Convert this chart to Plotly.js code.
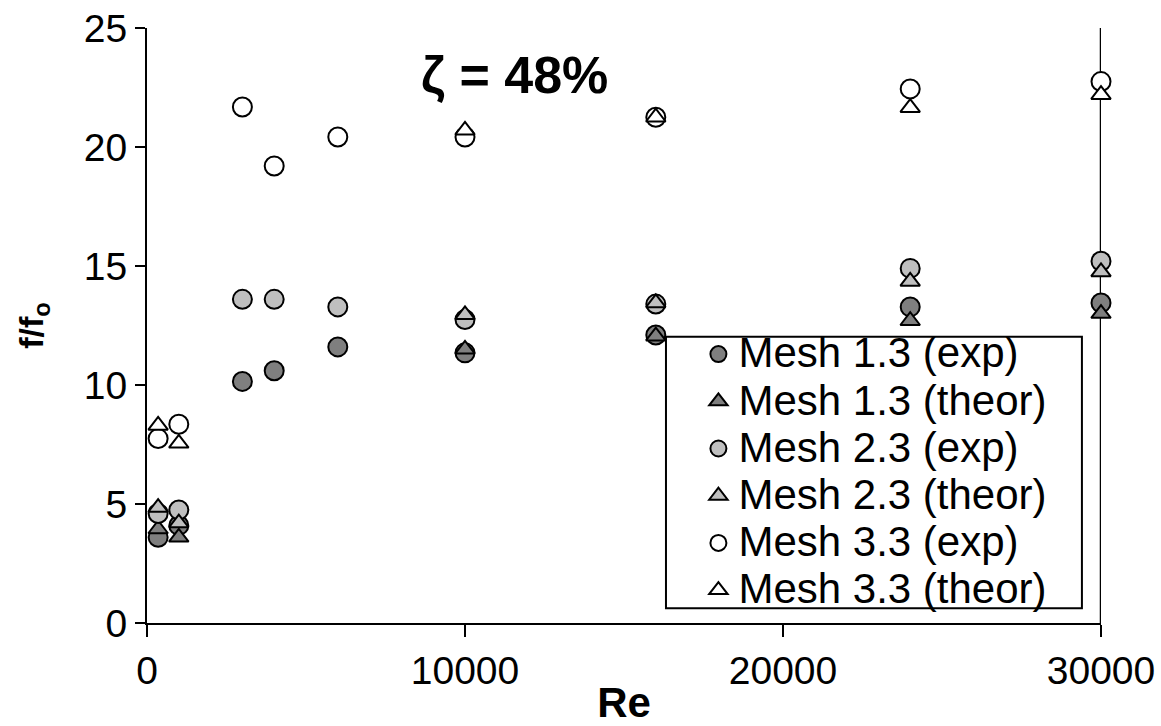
<!DOCTYPE html>
<html>
<head>
<meta charset="utf-8">
<script src="https://cdn.plot.ly/plotly-3.0.1.min.js"></script>
<style>html,body{margin:0;padding:0;background:#fff;}#chart{width:1161px;height:726px;}</style>
</head>
<body>
<div id="chart"></div>
<script>
// Data
const reExp = [350, 1000, 3000, 4000, 6000, 10000, 16000, 24000, 30000];
const reTheor = [350, 1000, 10000, 16000, 24000, 30000];

const mesh13Exp   = [3.6, 4.1, 10.15, 10.6, 11.6, 11.35, 12.1, 13.28, 13.45];
const mesh13Theor = [3.95, 3.6, 11.5, 12.05, 12.7, 13.0];
const mesh23Exp   = [4.6, 4.75, 13.6, 13.6, 13.28, 12.75, 13.4, 14.9, 15.2];
const mesh23Theor = [4.85, 4.2, 12.95, 13.45, 14.35, 14.75];
const mesh33Exp   = [7.75, 8.35, 21.68, 19.2, 20.42, 20.42, 21.25, 22.44, 22.75];
const mesh33Theor = [8.3, 7.55, 20.7, 21.25, 21.65, 22.2];

const seriesNames = ['Mesh 1.3 (exp)', 'Mesh 1.3 (theor)', 'Mesh 2.3 (exp)', 'Mesh 2.3 (theor)', 'Mesh 3.3 (exp)', 'Mesh 3.3 (theor)'];
const xTicks = [0, 10000, 20000, 30000];
const yTicks = [0, 5, 10, 15, 20, 25];

const FONT = '"Liberation Sans", Arial, sans-serif';
const dark = '#7f7f7f', light = '#bfbfbf', white = '#ffffff';

function tr(name, x, y, symbol, color, size) {
  return {
    type: 'scatter', mode: 'markers',
    name: '<span style="font-size:42px">' + name + '</span>',
    x: x, y: y, cliponaxis: false,
    marker: {symbol: symbol, size: size, color: color, line: {color: '#000', width: 2}}
  };
}

const data = [
  tr(seriesNames[0], reExp, mesh13Exp, 'circle', dark, 19),
  tr(seriesNames[1], reTheor, mesh13Theor, 'triangle-up', dark, 17),
  tr(seriesNames[2], reExp, mesh23Exp, 'circle', light, 19),
  tr(seriesNames[3], reTheor, mesh23Theor, 'triangle-up', light, 17),
  tr(seriesNames[4], reExp, mesh33Exp, 'circle', white, 19),
  tr(seriesNames[5], reTheor, mesh33Theor, 'triangle-up', white, 17)
];

const layout = {
  width: 1161, height: 726,
  margin: {l: 147, r: 60, t: 28, b: 103},
  paper_bgcolor: '#fff', plot_bgcolor: '#fff',
  font: {family: FONT, color: '#000', size: 36},
  showlegend: true,
  xaxis: {
    range: [0, 30000], tickvals: xTicks, ticktext: xTicks.map(String),
    showgrid: false, zeroline: false, showline: true, linecolor: '#000', linewidth: 2,
    ticks: 'outside', ticklen: 12, tickwidth: 2, tickcolor: '#000',
    tickfont: {size: 39, family: FONT},
    title: {text: '<b>Re</b>', font: {size: 42, family: FONT}, standoff: 2}
  },
  yaxis: {
    range: [0, 25], tickvals: yTicks, ticktext: yTicks.map(String),
    showgrid: false, zeroline: false, showline: true, linecolor: '#000', linewidth: 2,
    ticks: 'outside', ticklen: 10, tickwidth: 2, tickcolor: '#000',
    tickfont: {size: 39, family: FONT},
    title: {text: '<b>f/f<sub>o</sub></b>', font: {size: 34, family: FONT}, standoff: 30}
  },
  legend: {
    x: 0.578, y: 0.500, xanchor: 'left', yanchor: 'top',
    bgcolor: 'rgba(0,0,0,0)', borderwidth: 0,
    font: {size: 34, family: FONT}, traceorder: 'normal', tracegroupgap: 0
  },
  shapes: [
    {type: 'rect', xref: 'paper', yref: 'paper', x0: 0.544, x1: 0.980, y0: 0.025, y1: 0.481,
     line: {color: '#000', width: 2}, fillcolor: '#fff', layer: 'below'},
    {type: 'line', xref: 'x', yref: 'paper', x0: 30000, x1: 30000, y0: 0, y1: 1,
     line: {color: '#000', width: 2.5}, layer: 'below'}
  ],
  annotations: [
    {xref: 'paper', yref: 'paper', x: 0.385, y: 0.921, xanchor: 'center', yanchor: 'middle',
     text: '<b>ζ = 48%</b>', showarrow: false, font: {size: 52, family: FONT}}
  ]
};

Plotly.newPlot('chart', data, layout, {displayModeBar: false, staticPlot: true});
</script>
</body>
</html>
